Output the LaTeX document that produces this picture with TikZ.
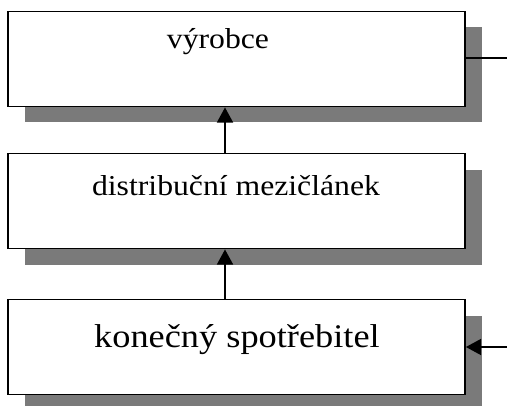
\documentclass[tikz,border=0pt]{standalone}
\usepackage{fontspec}
\setmainfont{Liberation Serif}[FakeStretch=1.1]
\usetikzlibrary{arrows.meta, shadows}

\begin{document}
\begin{tikzpicture}[
  box/.style={draw, line width=1.3pt, fill=white, minimum width=11.425cm,
              minimum height=2.375cm, inner sep=0pt,
              drop shadow={shadow xshift=0.425cm, shadow yshift=-0.4cm,
                           fill=black!52, opacity=1}},
  txt/.style={anchor=base, inner sep=0pt, font=\fontsize{20.5}{24}\selectfont},
  bigtxt/.style={txt, font=\fontsize{23.5}{27}\selectfont},
  arr/.style={-{Triangle[length=0.38cm, width=0.4cm]}, line width=1.3pt}
]
\useasboundingbox (0,0) rectangle (12.675,10.125);

\node[box] (vyr) at (5.9125, 8.65) {};
\node[txt] (vyrt) at (5.45, 8.9) {výrobce};

\node[box] (dist) at (5.9125, 5.1) {};
\node[txt] (distt) at (5.9, 5.25) {distribuční mezičlánek};

\node[box] (spot) at (5.9125, 1.45) {};
\node[bigtxt] (spott) at (5.925, 1.45) {konečný spotřebitel};

\coordinate (vyrout) at (12.675, 8.675);
\coordinate (spotin) at (12.675, 1.45);

\draw[arr] (dist.north -| 5.625,0) -- (vyr.south -| 5.625,0);
\draw[arr] (spot.north -| 5.625,0) -- (dist.south -| 5.625,0);
\draw[line width=1.3pt] (vyr.east |- vyrout) -- (vyrout);
\draw[arr] (spotin) -- (spot.east |- spotin);

\end{tikzpicture}
\end{document}
